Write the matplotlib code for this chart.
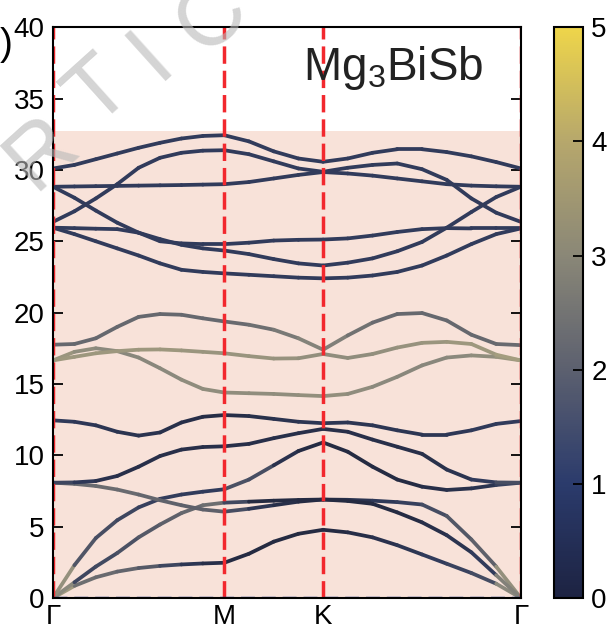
import numpy as np
import matplotlib
matplotlib.use('Agg')
import matplotlib.pyplot as plt
from matplotlib.collections import LineCollection
from matplotlib.colors import Normalize, LinearSegmentedColormap
from matplotlib.cm import ScalarMappable

plt.rcParams['font.family'] = ['Liberation Sans', 'DejaVu Sans']
plt.rcParams['mathtext.default'] = 'regular'

# k-path: Γ-M-K-Γ
k = [0, 0.125, 0.25, 0.375, 0.5, 0.625, 0.75, 0.875, 1.0,
     1.144, 1.289, 1.433, 1.577,
     1.721, 1.866, 2.010, 2.155, 2.299, 2.443, 2.588, 2.732]
kticks = [0, 1.0, 1.577, 2.732]
klabels = ['Γ', 'M', 'K', 'Γ']

# phonon branches
b1 = [0, 0.85, 1.45, 1.85, 2.1, 2.25, 2.35, 2.42, 2.47, 3.1, 3.95, 4.5, 4.78,
      4.6, 4.25, 3.7, 3.05, 2.4, 1.75, 1.0, 0]
b2 = [0, 1.1, 2.2, 3.15, 4.25, 5.15, 5.95, 6.5, 6.68, 6.75, 6.82, 6.87, 6.9,
      6.88, 6.82, 6.72, 6.55, 5.75, 4.1, 2.2, 0]
b3 = [0, 2.3, 4.2, 5.45, 6.35, 6.95, 7.25, 7.45, 7.62, 8.3, 9.3, 10.3, 10.9,
      10.25, 9.2, 8.3, 7.8, 7.57, 7.68, 7.92, 8.08]
b4 = [8.08, 8.0, 7.85, 7.6, 7.25, 6.85, 6.5, 6.2, 6.05, 6.25, 6.5, 6.75, 6.9,
      6.8, 6.6, 6.0, 5.3, 4.4, 3.2, 1.6, 0]
b5 = [8.08, 8.1, 8.2, 8.55, 9.2, 9.95, 10.4, 10.58, 10.63, 10.8, 11.2, 11.55, 11.85,
      11.65, 11.1, 10.6, 10.1, 9.0, 8.3, 8.1, 8.08]
b6 = [12.45, 12.35, 12.1, 11.65, 11.38, 11.6, 12.3, 12.7, 12.82, 12.75, 12.55, 12.35, 12.25,
      12.3, 12.1, 11.75, 11.45, 11.45, 11.75, 12.2, 12.4]
b7 = [16.65, 17.25, 17.5, 17.3, 16.85, 16.1, 15.3, 14.65, 14.4, 14.35, 14.3, 14.22, 14.15,
      14.3, 14.8, 15.5, 16.3, 16.85, 17.0, 16.9, 16.65]
b8 = [16.65, 16.9, 17.15, 17.3, 17.4, 17.42, 17.35, 17.25, 17.15, 16.95, 16.78, 16.8, 17.1,
      16.82, 17.1, 17.55, 17.88, 17.95, 17.8, 17.05, 16.65]
b9 = [17.75, 17.8, 18.2, 19.0, 19.7, 19.9, 19.85, 19.6, 19.38, 19.15, 18.8, 18.2, 17.4,
      18.4, 19.3, 19.9, 19.97, 19.45, 18.45, 17.8, 17.72]
b10 = [25.95, 25.5, 25.0, 24.5, 24.0, 23.45, 23.0, 22.85, 22.75, 22.65, 22.55, 22.45, 22.4,
       22.45, 22.6, 22.85, 23.3, 24.0, 24.8, 25.5, 25.9]
b11 = [28.82, 28.05, 27.15, 26.3, 25.6, 25.15, 24.75, 24.5, 24.35, 24.1, 23.75, 23.45, 23.3,
       23.5, 23.8, 24.3, 24.95, 25.95, 27.05, 28.1, 28.82]
b12 = [25.95, 25.92, 25.88, 25.85, 25.6, 25.0, 24.85, 24.8, 24.8, 24.9, 25.05, 25.1, 25.12,
       25.2, 25.4, 25.65, 25.85, 25.92, 25.9, 25.9, 25.9]
b13 = [28.82, 28.84, 28.86, 28.88, 28.9, 28.92, 28.94, 28.97, 29.0, 29.15, 29.4, 29.65, 29.85,
       29.75, 29.6, 29.4, 29.2, 29.0, 28.9, 28.85, 28.82]
b14 = [26.36, 27.1, 28.0, 29.0, 30.15, 30.85, 31.2, 31.35, 31.38, 31.1, 30.6, 30.1, 29.87,
       30.15, 30.35, 30.45, 30.05, 29.3, 28.0, 27.0, 26.36]
b15 = [30.1, 30.35, 30.75, 31.15, 31.55, 31.9, 32.2, 32.38, 32.43, 32.0, 31.3, 30.8, 30.57,
       30.8, 31.2, 31.45, 31.45, 31.25, 30.95, 30.55, 30.1]

# colour value (0-5) along each branch
c1 = [4.8, 2.4, 2.3, 2.2, 2.0, 1.6, 1.0, 0.6, 0.4, 0.3, 0.3, 0.3, 0.3,
      0.4, 0.5, 0.7, 0.9, 1.1, 1.3, 1.6, 4.5]
c2 = [4.8, 1.3, 1.3, 1.5, 1.7, 1.9, 2.1, 2.3, 2.4, 0.3, 0.3, 0.3, 0.4,
      0.6, 0.8, 1.0, 1.3, 1.6, 1.9, 2.1, 4.5]
c3 = [4.8, 1.8, 1.6, 1.4, 1.2, 1.1, 1.0, 1.0, 1.0, 2.2, 0.8, 0.4, 0.3,
      0.3, 0.3, 0.3, 0.4, 0.5, 0.6, 0.8, 1.5]
c4 = [2.0, 2.2, 2.3, 2.3, 2.2, 2.1, 2.0, 2.0, 2.0, 1.0, 0.6, 0.4, 0.3,
      0.3, 0.3, 0.3, 0.4, 0.6, 0.8, 1.2, 4.5]
c5 = [1.6, 1.0, 0.7, 0.5, 0.5, 0.5, 0.5, 0.5, 0.5, 0.5, 0.5, 0.5, 0.5,
      0.5, 0.5, 0.5, 0.5, 0.6, 0.8, 1.2, 1.8]
c6 = [1.0, 0.9, 0.8, 0.7, 0.7, 0.6, 0.5, 0.4, 0.4, 0.5, 0.6, 0.7, 0.8,
      0.8, 0.8, 0.8, 0.8, 0.8, 0.9, 1.0, 1.0]
c7 = [3.6, 3.3, 3.1, 3.0, 3.0, 3.0, 3.1, 3.2, 3.2, 3.2, 3.2, 3.2, 3.3,
      3.2, 3.1, 3.0, 3.0, 3.0, 3.1, 3.3, 3.6]
c8 = [3.6, 3.5, 3.5, 3.5, 3.5, 3.5, 3.5, 3.4, 3.4, 3.4, 3.4, 3.3, 3.2,
      3.2, 3.2, 3.3, 3.4, 3.5, 3.5, 3.6, 3.8]
c9 = [2.2, 2.2, 2.2, 2.2, 2.2, 2.2, 2.2, 2.2, 2.2, 2.3, 2.5, 2.8, 3.0,
      2.6, 2.3, 2.2, 2.2, 2.2, 2.2, 2.2, 2.3]
c_upper = 1.0

bands = [b1, b2, b3, b4, b5, b6, b7, b8, b9, b10, b11, b12, b13, b14, b15]
colours = [c1, c2, c3, c4, c5, c6, c7, c8, c9,
           c_upper, c_upper, c_upper, c_upper, c_upper, c_upper]

# colour bar stops, as seen on the figure (0..5)
cbar_colours = ['#1d2342', '#2b3b6c', '#5c606f', '#8a8777', '#b6a76c', '#eed54a']

fig = plt.figure(figsize=(6.1, 6.3), dpi=100)
ax = fig.add_axes([0.0869, 0.0508, 0.767, 0.906])
cax = fig.add_axes([0.908, 0.0508, 0.0475, 0.906])

norm = Normalize(0, 5)
cmap = LinearSegmentedColormap.from_list('cbar', cbar_colours)

ax.axhspan(0, 32.75, color='#f8e2d9', lw=0, zorder=0)

for f, c in zip(bands, colours):
    pts = np.column_stack([k, f])
    segs = np.stack([pts[:-1], pts[1:]], axis=1)
    cv = np.broadcast_to(np.asarray(c, float), (len(k),))
    rgba = cmap(norm((cv[:-1] + cv[1:]) / 2))
    # lines are a bit greyer than the bar
    lum = rgba[:, :3] @ np.array([0.3, 0.59, 0.11])
    rgba[:, :3] = 0.65 * rgba[:, :3] + 0.35 * lum[:, None]
    lc = LineCollection(segs, colors=rgba, linewidths=2.7,
                        capstyle='round', joinstyle='round', zorder=2)
    ax.add_collection(lc)

for x in kticks:
    ax.axvline(x, color='#f2282e', ls=(0, (5, 2)), lw=2.5, zorder=4)
ax.axhline(0, color='#2d4a9a', ls=(0, (4, 2)), lw=2.5, zorder=4)

ax.set_xlim(kticks[0], kticks[-1])
ax.set_ylim(0, 40)
ax.set_xticks(kticks)
ax.set_xticklabels(klabels)
ax.set_yticks(range(0, 41, 5))
ax.tick_params(direction='in', top=True, right=True, length=7, width=1.3,
               labelsize=20, pad=6)
ax.tick_params(axis='x', pad=4)
for s in ax.spines.values():
    s.set_linewidth(1.5)
    s.set_zorder(5)

ax.text(1.46, 36.3, 'Mg$_3$BiSb', fontsize=33, va='baseline', color='#222222', zorder=6)

cb = fig.colorbar(ScalarMappable(norm=norm, cmap=cmap), cax=cax)
cb.set_ticks(range(0, 6))
cax.tick_params(direction='in', labelsize=20, length=7, width=1.3, pad=6)
cb.outline.set_linewidth(1.5)

fig.text(0.0, 0.928, ')', ha='left', va='center', fontsize=28)

# faint watermark letters running off the top edge
wm_letters = ['R', 'T', 'I', 'C']
wm_px = [42, 100, 152, 212]
wm_py = [152, 92, 56, 18]
for ch, px, py in zip(wm_letters, wm_px, wm_py):
    fig.text(px / 610, 1 - py / 630, ch, rotation=42, ha='center', va='center',
             rotation_mode='anchor', color='#b8b8b8', alpha=0.6, fontsize=64, zorder=10)

fig.savefig('out.png', dpi=100)
